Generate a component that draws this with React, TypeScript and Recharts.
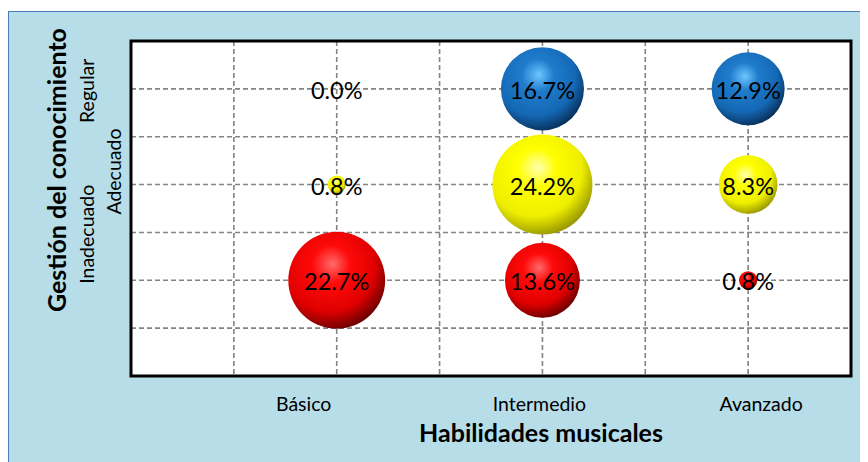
import React from 'react';
import { ScatterChart, Scatter, XAxis, YAxis, ZAxis, CartesianGrid, ReferenceArea } from 'recharts';

// categories
const habilidades = ['Básico', 'Intermedio', 'Avanzado'];
const gestion = ['Inadecuado', 'Adecuado', 'Regular'];

// percentages per level of "Gestión del conocimiento"
const inadecuado = [22.7, 13.6, 0.8];
const adecuado = [0.8, 24.2, 8.3];
const regular = [0.0, 16.7, 12.9];

const gridTicks = [0, 0.5, 1, 1.5, 2, 2.5, 3, 3.5];

const FONT = 'Lato, Calibri, "Open Sans", sans-serif';
const MAX_R = 50;

const toPoints = (values: number[], row: number) =>
  values.map((v, i) => ({ x: i + 1, y: row + 1, z: v }));

const series = [
  { name: gestion[0], data: toPoints(inadecuado, 0), id: 'ballRed', stops: ['#ff6a6a', '#ff0a0a', '#e00000', '#5c0000'] },
  { name: gestion[1], data: toPoints(adecuado, 1), id: 'ballYellow', stops: ['#ffffb0', '#ffff00', '#eeee00', '#8c8c00'] },
  { name: gestion[2], data: toPoints(regular, 2), id: 'ballBlue', stops: ['#6cc6ff', '#1f7ccc', '#1468b4', '#07294f'] },
];

const maxZ = Math.max(...inadecuado, ...adecuado, ...regular);

// Excel-like label placement, offsets tuned by eye
const xLabelShift: Record<string, number> = { 'Básico': -33, 'Intermedio': -3, 'Avanzado': 13 };
const yLabelShift: Record<string, { dx: number; dy: number }> = {
  Regular: { dx: -37, dy: 2 },
  Adecuado: { dx: -10, dy: -13 },
  Inadecuado: { dx: -37, dy: -46 },
};

const XTick = (props: any) => {
  const { x, y, payload } = props;
  const v = payload.value;
  if (!Number.isInteger(v) || v < 1 || v > 3) return null;
  const name = habilidades[v - 1];
  return (
    <text x={x + xLabelShift[name]} y={y + 33} textAnchor="middle" fontFamily={FONT} fontSize={19.5} fill="#000">
      {name}
    </text>
  );
};

const YTick = (props: any) => {
  const { x, y, payload } = props;
  const v = payload.value;
  if (!Number.isInteger(v) || v < 1 || v > 3) return null;
  const name = gestion[v - 1];
  const s = yLabelShift[name];
  const tx = x + s.dx;
  const ty = y + s.dy;
  return (
    <text x={tx} y={ty} transform={`rotate(-90, ${tx}, ${ty})`} textAnchor="middle" fontFamily={FONT} fontSize={19.5} fill="#000">
      {name}
    </text>
  );
};

const makeBall = (id: string) => (props: any) => {
  const { cx, cy, payload } = props;
  const r = props.width != null ? props.width / 2 : Math.sqrt(Math.max(props.size || 0, 0) / Math.PI);
  return (
    <g>
      {r > 0.5 && <circle cx={cx} cy={cy} r={r} fill={`url(#${id})`} />}
      <text x={cx} y={cy + 10} textAnchor="middle" fontFamily={FONT} fontSize={23.5} fill="#000">
        {payload.z.toFixed(1)}%
      </text>
    </g>
  );
};

export default function App() {
  return (
    <div style={{ marginTop: 3, width: 859, height: 450, background: '#b7dee8', borderLeft: '1.5px solid #4a7ebb', borderTop: '1.5px solid #4a7ebb' }}>
      <style>{'body{overflow:hidden}'}</style>
      <ScatterChart width={860} height={451} margin={{ top: 29, right: 18, bottom: 0, left: 0 }}>
        <defs>
          {series.map((s) => (
            <radialGradient key={s.id} id={s.id} cx="40%" cy="35%" r="70%" fx="46%" fy="33%">
              <stop offset="0%" stopColor={s.stops[0]} />
              <stop offset="28%" stopColor={s.stops[1]} />
              <stop offset="68%" stopColor={s.stops[2]} />
              <stop offset="100%" stopColor={s.stops[3]} />
            </radialGradient>
          ))}
        </defs>
        <CartesianGrid fill="#ffffff" stroke="#848484" strokeWidth={1.6} strokeDasharray="5 3" />
        <XAxis
          type="number"
          dataKey="x"
          domain={[0, 3.5]}
          ticks={gridTicks}
          interval={0}
          height={87}
          axisLine={false}
          tickLine={false}
          tickSize={0}
          tick={<XTick />}
        />
        <YAxis
          type="number"
          dataKey="y"
          domain={[0, 3.5]}
          ticks={gridTicks}
          interval={0}
          width={122}
          axisLine={false}
          tickLine={false}
          tickSize={0}
          tickMargin={0}
          tick={<YTick />}
        />
        <ZAxis type="number" dataKey="z" domain={[0, maxZ]} range={[0, Math.PI * MAX_R * MAX_R]} />
        <ReferenceArea x1={0} x2={3.5} y1={0} y2={3.5} fill="none" stroke="#000" strokeWidth={3} />
        {series.map((s) => (
          <Scatter key={s.id} name={s.name} data={s.data} shape={makeBall(s.id)} isAnimationActive={false} />
        ))}
        <text x={532} y={430} textAnchor="middle" fontFamily={FONT} fontWeight="bold" fontSize={25} fill="#000">
          Habilidades musicales
        </text>
        <text x={57} y={158} transform="rotate(-90, 57, 158)" textAnchor="middle" fontFamily={FONT} fontWeight="bold" fontSize={25} fill="#000">
          Gestión del conocimiento
        </text>
      </ScatterChart>
    </div>
  );
}
